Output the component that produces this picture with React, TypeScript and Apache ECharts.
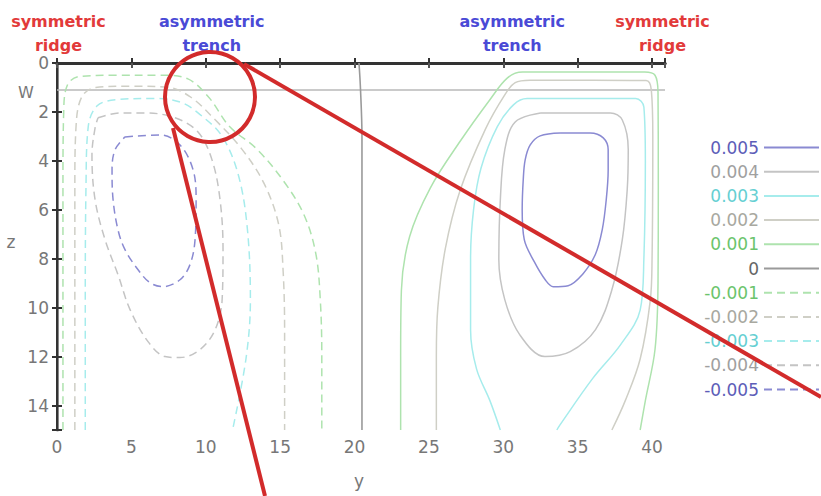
import React, { useEffect, useRef } from "react";
import * as echarts from "echarts";

// contour levels (legend order)
const levels = ["0.005", "0.004", "0.003", "0.002", "0.001", "0", "-0.001", "-0.002", "-0.003", "-0.004", "-0.005"];
const lineColors = ["#8a8ad2", "#c4c4c4", "#a6ecec", "#cfcfc6", "#aee3ae", "#9a9a9a", "#aee3ae", "#cfcfc6", "#a6ecec", "#c4c4c4", "#8a8ad2"];
const textColors = ["#5d5db8", "#a0a0a0", "#66cfd2", "#a8a8a0", "#6cc46c", "#666666", "#6cc46c", "#a8a8a0", "#66cfd2", "#a0a0a0", "#5d5db8"];

// contour paths as [y, z] points
const pos5 = [[33.83,2.86],[35.84,2.86],[36.72,3.06],[37.05,3.55],[37.05,4.37],[36.92,5.59],[36.65,6.82],[36.18,7.84],[35.31,8.65],[34.36,9.1],[33.36,9.14],[32.82,8.86],[32.08,8.12],[31.41,7.22],[31.27,6.0],[31.34,4.78],[31.47,3.96],[31.81,3.35],[32.48,2.98],[33.83,2.86]];
const pos4 = [[32.5,2.04],[37.2,2.04],[38.0,2.33],[38.4,3.55],[38.33,5.18],[38.0,7.22],[37.3,9.27],[36.2,10.9],[34.5,11.8],[32.8,12.0],[31.1,11.1],[30.1,9.67],[29.7,8.04],[29.8,5.6],[30.1,3.55],[30.8,2.41],[32.5,2.04]];
const pos3 = [[29.8,15],[29.1,13.8],[28.2,12.5],[27.8,10.9],[27.8,8.0],[28.0,6],[28.5,4.3],[29.6,2.6],[30.7,1.7],[31.6,1.45],[35,1.45],[38.9,1.45],[39.45,1.8],[39.55,4],[39.45,8],[39.2,10.1],[37.9,11.5],[36.0,12.9],[33.8,14.8],[33.6,15]];
const pos2 = [[25.5,15],[25.5,12],[25.6,10],[26.1,7.6],[27.1,5.2],[28.8,2.7],[30.1,1.3],[30.8,0.8],[31.8,0.7],[36,0.7],[39.6,0.72],[39.95,1.1],[40.05,3],[40.0,8],[39.88,9.7],[39.2,12.1],[38.2,13.8],[37.3,15]];
const pos1 = [[23.1,15],[23.1,12],[23.15,9.3],[23.7,7.1],[25.1,5.1],[27.1,3.2],[29.1,1.5],[30.3,0.6],[31.3,0.37],[35,0.37],[39.5,0.37],[40.2,0.5],[40.4,1.2],[40.42,5],[40.4,9],[40.2,11.7],[39.55,13.8],[39.2,15]];
const zero = [[20.3,0],[20.4,1.05],[20.5,3],[20.5,15]];
const neg1 = [[0.4,15],[0.4,10],[0.4,5],[0.45,2],[0.7,0.9],[1.5,0.55],[4,0.5],[7,0.5],[8.8,0.65],[10.2,1.4],[11.6,2.6],[13.4,3.5],[15.2,4.8],[16.6,6.2],[17.4,7.8],[17.7,9.7],[17.8,12],[17.8,15]];
const neg2 = [[1.2,15],[1.2,10],[1.2,5],[1.3,2.4],[1.7,1.35],[2.6,1.0],[5,0.95],[7.5,1.0],[9,1.4],[10.6,2.3],[12.4,3.5],[13.9,4.9],[14.9,6.6],[15.2,8.5],[15.3,11],[15.3,15]];
const neg3 = [[1.9,15],[1.9,10],[1.95,5],[2.1,2.6],[2.7,1.75],[4,1.5],[6.5,1.45],[8.3,1.6],[9.6,2.1],[11.1,3.0],[12.2,4.6],[12.8,6.8],[13.0,9.7],[12.7,12.1],[11.8,15]];
const neg4 = [[2.76,2.24],[4.24,2.04],[5.92,2.04],[7.94,2.24],[9.48,2.82],[10.42,3.96],[10.96,5.59],[11.16,7.63],[11.1,9.67],[10.63,10.9],[9.62,11.71],[8.27,12.04],[7.26,12.0],[6.12,11.39],[4.91,10.08],[4.1,8.65],[3.23,7.22],[2.56,5.59],[2.35,3.76],[2.56,2.65],[2.76,2.24]];
const neg5 = [[4.57,3.02],[6.93,2.94],[8.27,3.35],[9.15,4.37],[9.35,5.59],[9.28,7.22],[8.94,8.24],[8.27,8.86],[7.13,9.14],[6.25,8.98],[5.45,8.45],[4.57,7.63],[4.1,6.82],[3.77,5.59],[3.7,4.37],[3.9,3.55],[4.57,3.02]];
const contours = [pos5, pos4, pos3, pos2, pos1, zero, neg1, neg2, neg3, neg4, neg5];

// water surface line depth
const wDepth = 1.1;
const yMax = 40.87;
const zMax = 15;

// top labels: [text, y position, colour]
const topLabels: [string, number, string][] = [
  ["symmetric\nridge", 0.1, "#e23a3a"],
  ["asymmetric\ntrench", 10.4, "#4a4ad6"],
  ["asymmetric\ntrench", 30.6, "#4a4ad6"],
  ["symmetric\nridge", 40.7, "#e23a3a"],
];

export default function App() {
  const ref = useRef<HTMLDivElement>(null);
  useEffect(() => {
    if (!ref.current) return;
    const chart = echarts.init(ref.current, undefined, { renderer: "svg" });
    const gridLeft = 57, gridRight = 156, gridTop = 63, gridBottom = 66;
    const plotW = 821 - gridLeft - gridRight;
    const xPx = (v: number) => gridLeft + (v / yMax) * plotW;
    const fmtX = (v: number) => (Math.abs(v % 5) < 1e-9 ? String(v) : "");
    const fmtZ = (v: number) => (Math.abs(v % 2) < 1e-9 ? String(v) : "");
    const axisFont = { color: "#777", fontSize: 17, fontFamily: "DejaVu Sans" };
    const series: any[] = contours.map((d, i) => ({
      name: levels[i],
      type: "line",
      data: d,
      symbol: "none",
      showSymbol: false,
      smooth: 0.35,
      lineStyle: {
        color: lineColors[i],
        width: i === 5 ? 1.6 : 1.5,
        type: i > 5 ? [8, 5] : "solid",
      },
      itemStyle: { color: lineColors[i] },
      z: 3,
    }));
    series.push({
      name: "W",
      type: "line",
      data: [[0, wDepth], [yMax, wDepth]],
      symbol: "none",
      lineStyle: { color: "#b8b8b8", width: 1.5 },
      z: 2,
    });
    const graphics: any[] = topLabels.map(([t, y, c]) => ({
      type: "text",
      x: xPx(y),
      y: 33,
      z: 50,
      style: {
        text: t,
        fill: c,
        font: "bold 16px 'DejaVu Sans'",
        lineHeight: 24,
        textAlign: "center",
        textVerticalAlign: "middle",
      },
    }));
    graphics.push(
      { type: "text", x: 26, y: 92, style: { text: "W", fill: "#777", font: "16px 'DejaVu Sans'", textAlign: "center", textVerticalAlign: "middle" } },
      { type: "text", x: 11, y: 242, style: { text: "z", fill: "#777", font: "17px 'DejaVu Sans'", textAlign: "center", textVerticalAlign: "middle" } },
      { type: "text", x: 359, y: 481, style: { text: "y", fill: "#777", font: "17px 'DejaVu Sans'", textAlign: "center", textVerticalAlign: "middle" } },
      { type: "circle", z: 60, shape: { cx: 210, cy: 97, r: 45 }, style: { fill: "none", stroke: "#d22b2b", lineWidth: 4 } },
      { type: "line", z: 60, shape: { x1: 244, y1: 64, x2: 821, y2: 397 }, style: { stroke: "#d22b2b", lineWidth: 4 } },
      { type: "line", z: 60, shape: { x1: 173, y1: 128, x2: 265, y2: 496 }, style: { stroke: "#d22b2b", lineWidth: 4 } }
    );
    chart.setOption({
      animation: false,
      backgroundColor: "#ffffff",
      textStyle: { fontFamily: "DejaVu Sans" },
      grid: { left: gridLeft, right: gridRight, top: gridTop, bottom: gridBottom },
      legend: {
        orient: "vertical",
        right: 1,
        top: 139,
        padding: 0,
        align: "right",
        itemWidth: 55,
        itemHeight: 14,
        itemGap: 7.2,
        selectedMode: false,
        itemStyle: { opacity: 0 },
        textStyle: { fontSize: 17, lineHeight: 14, fontFamily: "DejaVu Sans" },
        data: levels.map((l, i) => ({ name: l, textStyle: { color: textColors[i] } })),
      },
      xAxis: [
        {
          type: "value", position: "bottom", min: 0, max: yMax, interval: 5,
          axisLine: { lineStyle: { color: "#333", width: 3 } },
          axisTick: { inside: true, length: 5, lineStyle: { color: "#333", width: 2 } },
          axisLabel: { ...axisFont, margin: 8, formatter: fmtX },
          splitLine: { show: false },
        },
        {
          type: "value", position: "top", min: 0, max: yMax, interval: 5,
          axisLine: { lineStyle: { color: "#333", width: 3 } },
          axisTick: { inside: true, length: 5, lineStyle: { color: "#555", width: 2 } },
          axisLabel: { show: false },
          splitLine: { show: false },
        },
      ],
      yAxis: [
        {
          type: "value", position: "left", inverse: true, min: 0, max: zMax, interval: 2,
          axisLine: { lineStyle: { color: "#888", width: 3 } },
          axisTick: { inside: true, length: 5, lineStyle: { color: "#333", width: 2 } },
          axisLabel: { ...axisFont, margin: 8, formatter: fmtZ },
          splitLine: { show: false },
        },
        {
          type: "value", position: "right", inverse: true, min: 0, max: zMax, interval: 2,
          axisLine: { lineStyle: { color: "#333", width: 2 } },
          axisTick: { inside: true, length: 5, lineStyle: { color: "#333", width: 2 } },
          axisLabel: { show: false },
          splitLine: { show: false },
        },
      ],
      series,
      graphic: graphics,
    });
    return () => chart.dispose();
  }, []);
  return <div ref={ref} style={{ width: 821, height: 496, position: "absolute", left: 0, top: 0 }} />;
}
